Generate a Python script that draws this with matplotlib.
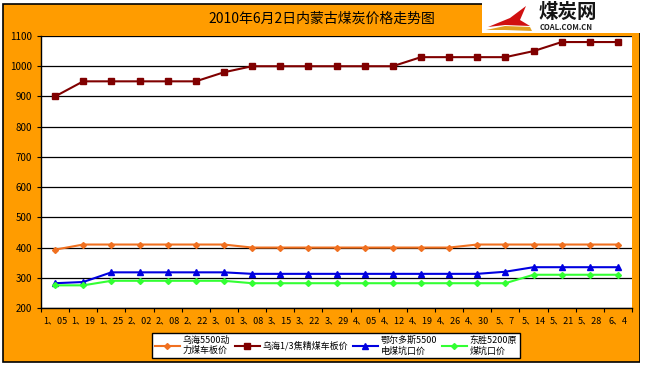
import matplotlib
matplotlib.use('Agg')
from matplotlib import pyplot as plt
from matplotlib.patches import Rectangle, Polygon

plt.rcParams['font.family'] = ['Noto Sans CJK SC', 'DejaVu Sans']

dates = ['1、05', '1、19', '1、25', '2、02', '2、08', '2、22', '3、01', '3、08', '3、15', '3、22', '3、29',
         '4、05', '4、12', '4、19', '4、26', '4、30', '5、7', '5、14', '5、21', '5、28', '6、4']

wuhai_5500 = [393, 410, 410, 410, 410, 410, 410, 400, 400, 400, 400,
              400, 400, 400, 400, 410, 410, 410, 410, 410, 410]
wuhai_jm = [900, 950, 950, 950, 950, 950, 980, 1000, 1000, 1000, 1000,
            1000, 1000, 1030, 1030, 1030, 1030, 1050, 1080, 1080, 1080]
erdos_5500 = [282, 286, 318, 318, 318, 318, 318, 313, 313, 313, 313,
              313, 313, 313, 313, 313, 320, 335, 335, 335, 335]
dongsheng_5200 = [275, 275, 290, 290, 290, 290, 290, 282, 282, 282, 282,
                  282, 282, 282, 282, 282, 282, 310, 310, 310, 310]

names = ['乌海5500动\n力煤车板价', '乌海1/3焦精煤车板价', '鄂尔多斯5500\n电煤坑口价', '东胜5200原\n煤坑口价']
colors = ['#F07020', '#800000', '#0000E0', '#33FF33']
markers = ['D', 's', '^', 'D']
msizes = [3, 4, 4.5, 3]

fig = plt.figure(figsize=(6.45, 3.66), dpi=100)
fig.patch.set_facecolor('white')

# background frame
bg = fig.add_axes([0, 0, 1, 1], zorder=0)
bg.set_xlim(0, 645)
bg.set_ylim(366, 0)
bg.axis('off')
bg.add_patch(Rectangle((3, 4), 637, 358, facecolor='#FF9C00', edgecolor='black', linewidth=1.2))
bg.text(322, 19, '2010年6月2日内蒙古煤炭价格走势图', ha='center', va='center', fontsize=10)

ax = fig.add_axes([41/645, 1-308/366, 591/645, 272/366], zorder=1)
ax.set_facecolor('white')
x = list(range(len(dates)))
series = [wuhai_5500, wuhai_jm, erdos_5500, dongsheng_5200]
for s, n, c, m, ms in zip(series, names, colors, markers, msizes):
    ax.plot(x, s, color=c, linewidth=1.5, marker=m, markersize=ms, label=n)

ax.set_xlim(-0.5, len(dates) - 0.5)
ax.set_ylim(200, 1100)
ax.set_yticks(range(200, 1101, 100))
ax.tick_params(axis='y', labelsize=7, length=3, width=0.8)
ax.yaxis.grid(True, color='black', linewidth=0.9)
ax.set_axisbelow(True)
ax.set_xticks(x)
ax.set_xticklabels(dates, fontsize=6.5)
ax.tick_params(axis='x', length=0, pad=6)
ax.set_xticks([i - 0.5 for i in range(len(dates) + 1)], minor=True)
ax.tick_params(axis='x', which='minor', length=3, width=0.8)
for sp in ['top', 'right']:
    ax.spines[sp].set_visible(False)
for sp in ['left', 'bottom']:
    ax.spines[sp].set_linewidth(1)

leg = fig.legend(loc='center', bbox_to_anchor=(336/645, 1-345.5/366), ncol=4, fontsize=6.5,
                 frameon=True, fancybox=False, edgecolor='black', framealpha=1,
                 handlelength=2.8, columnspacing=0.5, handletextpad=0.3, borderpad=0.3,
                 labelspacing=0.1)
leg.get_frame().set_linewidth(1)

# logo area
top = fig.add_axes([0, 0, 1, 1], zorder=5)
top.set_xlim(0, 645)
top.set_ylim(366, 0)
top.axis('off')
top.patch.set_alpha(0)
top.add_patch(Rectangle((482, 0), 163, 33, facecolor='white', edgecolor='none'))
top.add_patch(Rectangle((640, 33), 5, 333, facecolor='white', edgecolor='none'))
top.add_patch(Polygon([(488, 27), (510, 18), (526, 6), (520, 20), (530, 26), (505, 25)],
                      closed=True, facecolor='#D01010', edgecolor='none'))
top.add_patch(Polygon([(486, 30), (505, 26), (530, 27), (532, 31), (505, 30)],
                      closed=True, facecolor='#E0A020', edgecolor='none'))
top.text(568, 13, '煤炭网', ha='center', va='center', fontsize=14, fontweight='heavy', color='#151515')
top.text(566, 28, 'COAL.COM.CN', ha='center', va='center', fontsize=5.5, fontweight='bold', color='#202020')

fig.savefig('out.png', dpi=100)
